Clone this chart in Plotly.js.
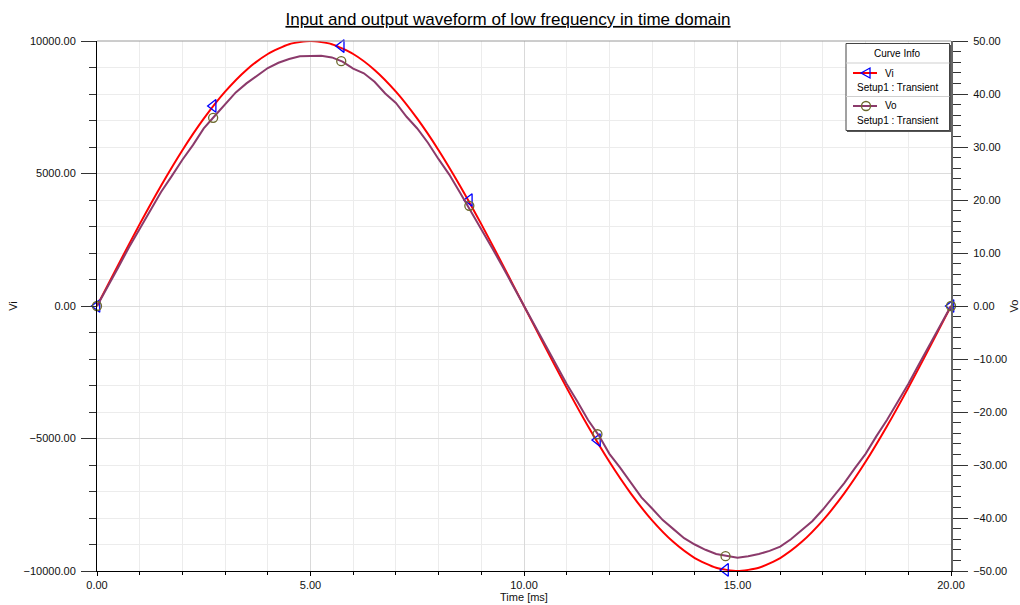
<!DOCTYPE html>
<html>
<head>
<meta charset="utf-8">
<script src="https://cdn.plot.ly/plotly-3.0.1.min.js"></script>
<style>html,body{margin:0;padding:0;background:#fff;}#chart{width:1020px;height:605px;}</style>
</head>
<body>
<div id="chart"></div>
<script>
// ---- data ----
const viTime = [0,0.5,1,1.5,2,2.5,3,3.5,4,4.5,5,5.5,6,6.5,7,7.5,8,8.5,9,9.5,10,
  10.5,11,11.5,12,12.5,13,13.5,14,14.5,15,15.5,16,16.5,17,17.5,18,18.5,19,19.5,20];
const viValues = [0,1560,3090,4540,5880,7070,8090,8910,9510,9880,10000,
  9880,9510,8910,8090,7070,5880,4540,3090,1560,0,
  -1560,-3090,-4540,-5880,-7070,-8090,-8910,-9510,-9880,-10000,
  -9880,-9510,-8910,-8090,-7070,-5880,-4540,-3090,-1560,0];
const voTime = [0,0.25,0.5,0.75,1,1.25,1.5,1.75,2,2.25,2.5,2.75,3,3.25,3.5,3.75,4,4.25,4.5,4.75,
  5,5.25,5.5,5.75,6,6.25,6.5,6.75,7,7.25,7.5,7.75,8,8.25,8.5,8.75,9,9.25,9.5,9.75,
  10,10.25,10.5,10.75,11,11.25,11.5,11.75,12,12.25,12.5,12.75,13,13.25,13.5,13.75,14,14.25,14.5,14.75,
  15,15.25,15.5,15.75,16,16.25,16.5,16.75,17,17.25,17.5,17.75,18,18.25,18.5,18.75,19,19.25,19.5,19.75,20];
const voValues = [0,3.6,7.3,11.1,14.5,17.9,21.5,24.5,27.6,30.4,33.5,35.8,38.0,40.3,42.0,43.5,44.9,45.9,46.6,47.1,
  47.2,47.2,46.9,46.1,44.8,43.9,42.3,40.1,38.3,35.7,33.5,30.8,27.7,24.8,21.4,18.0,14.5,11.0,7.4,3.7,
  0,-3.8,-7.5,-11.1,-14.7,-18.0,-21.5,-24.4,-27.9,-30.5,-33.3,-36.1,-38.2,-40.4,-42.1,-43.8,-45.0,-46.0,-46.8,-47.2,
  -47.5,-47.2,-46.8,-46.2,-45.4,-44.0,-42.3,-40.6,-38.4,-35.9,-33.4,-30.6,-27.9,-24.6,-21.5,-18.1,-14.7,-11.0,-7.4,-3.7,0];
const markerTimes = [0,2.72,5.72,8.72,11.72,14.72,20];
const viMarkers = [0,7550,9810,4000,-5060,-9960,0];
const voMarkers = [0,35.5,46.2,18.9,-24.2,-47.2,0];
const legendNames = ["Vi","Vo"];
const legendSetup = "Setup1 : Transient";

// ---- layout helpers (plot area in pixels) ----
const L = 97, R = 951, T = 41, B = 571;
const px = x => (x - L) / (R - L);
const py = y => (B - y) / (B - T);

const viColor = "#ff0000", voColor = "#8b3a6b", triColor = "#0000ff", circColor = "#6b682c";
const font = "Arial, 'Liberation Sans', sans-serif";

const traces = [
  {x: voTime, y: voValues, yaxis: "y2", mode: "lines", line: {color: voColor, width: 2}, showlegend: false, hoverinfo: "skip"},
  {x: viTime, y: viValues, mode: "lines", line: {color: viColor, width: 2, shape: "spline", smoothing: 0.6}, showlegend: false},
  {x: markerTimes, y: voMarkers, yaxis: "y2", mode: "markers", cliponaxis: false,
   marker: {symbol: "circle-open", size: 9, color: circColor, line: {width: 1.3, color: circColor}}, showlegend: false},
  {x: markerTimes, y: viMarkers, mode: "markers", cliponaxis: false,
   marker: {symbol: "triangle-left-open", size: 11, color: triColor, line: {width: 1.3, color: triColor}}, showlegend: false}
];

const shapes = [
  {type: "line", xref: "paper", yref: "paper", x0: 0, x1: 1, y0: 1, y1: 1, line: {color: "#9a9a9a", width: 1}},
  // legend box
  {type: "rect", xref: "paper", yref: "paper", x0: px(847), x1: px(951), y0: py(132), y1: py(45), fillcolor: "#555", line: {width: 0}, layer: "above"},
  {type: "rect", xref: "paper", yref: "paper", x0: px(846), x1: px(949.5), y0: py(130.5), y1: py(43.5), fillcolor: "#ffffff", line: {color: "#444", width: 1}, layer: "above"},
  {type: "line", xref: "paper", yref: "paper", x0: px(846), x1: px(949.5), y0: py(63), y1: py(63), line: {color: "#cfcfcf", width: 1}, layer: "above"},
  {type: "line", xref: "paper", yref: "paper", x0: px(846), x1: px(949.5), y0: py(96.5), y1: py(96.5), line: {color: "#cfcfcf", width: 1}, layer: "above"},
  {type: "line", xref: "paper", yref: "paper", x0: px(853), x1: px(877), y0: py(73), y1: py(73), line: {color: viColor, width: 2}, layer: "above"},
  {type: "path", xref: "paper", yref: "paper", layer: "above",
   path: `M ${px(861)} ${py(73)} L ${px(870)} ${py(68)} L ${px(870)} ${py(78)} Z`, line: {color: triColor, width: 1.3}},
  {type: "line", xref: "paper", yref: "paper", x0: px(853), x1: px(877), y0: py(106), y1: py(106), line: {color: voColor, width: 2}, layer: "above"},
  {type: "circle", xref: "paper", yref: "paper", x0: px(861.5), x1: px(870.5), y0: py(110.5), y1: py(101.5), line: {color: circColor, width: 1.3}, layer: "above"}
];

const annFont = {family: font, size: 10, color: "#000"};
const annotations = [
  {xref: "paper", yref: "paper", x: px(897.5), y: py(53), text: "Curve Info", showarrow: false, xanchor: "center", yanchor: "middle", font: annFont},
  {xref: "paper", yref: "paper", x: px(883), y: py(73), text: legendNames[0], showarrow: false, xanchor: "left", yanchor: "middle", font: annFont},
  {xref: "paper", yref: "paper", x: px(855), y: py(87), text: legendSetup, showarrow: false, xanchor: "left", yanchor: "middle", font: annFont},
  {xref: "paper", yref: "paper", x: px(883), y: py(106), text: legendNames[1], showarrow: false, xanchor: "left", yanchor: "middle", font: annFont},
  {xref: "paper", yref: "paper", x: px(855), y: py(121), text: legendSetup, showarrow: false, xanchor: "left", yanchor: "middle", font: annFont}
];

const tickFont = {family: font, size: 11, color: "#111"};

const layout = {
  width: 1020, height: 605,
  margin: {l: L, r: 1020 - R, t: T, b: 605 - B, pad: 0},
  paper_bgcolor: "#fff", plot_bgcolor: "#fff",
  showlegend: false,
  title: {text: "<u>Input and output waveform of low frequency in time domain</u>", x: 508/1020, xref: "container", xanchor: "center",
          y: 1 - 19/605, yref: "container", yanchor: "middle", font: {family: font, size: 17, color: "#000"}},
  xaxis: {range: [0, 20], tickmode: "linear", tick0: 0, dtick: 5, tickformat: ".2f",
          ticks: "outside", ticklen: 4, tickcolor: "#000", tickfont: tickFont,
          showline: true, linecolor: "#000", linewidth: 1, zeroline: false,
          showgrid: true, gridcolor: "#d9d9d9", gridwidth: 1,
          minor: {dtick: 1, ticks: "outside", ticklen: 3, tickcolor: "#000", showgrid: true, gridcolor: "#ececec"},
          title: {text: "Time [ms]", font: {family: font, size: 11, color: "#111"}, standoff: 2}},
  yaxis: {range: [-10000, 10000], tickmode: "linear", tick0: 0, dtick: 5000, tickformat: ".2f",
          ticks: "outside", ticklen: 15, tickcolor: "#333", tickfont: tickFont, ticklabelstandoff: 3,
          showline: true, linecolor: "#000", linewidth: 1, zeroline: false,
          showgrid: true, gridcolor: "#dcdcdc",
          minor: {dtick: 1000, ticks: "outside", ticklen: 7, tickcolor: "#333", showgrid: true, gridcolor: "#ececec"},
          title: {text: "Vi", font: {family: font, size: 11, color: "#111"}, standoff: 3}},
  yaxis2: {range: [-50, 50], overlaying: "y", side: "right", tickmode: "linear", tick0: 0, dtick: 10, tickformat: ".2f",
           ticks: "outside", ticklen: 15, tickcolor: "#333", tickfont: tickFont, ticklabelstandoff: 3,
           showline: true, linecolor: "#666", linewidth: 2, zeroline: false, showgrid: false,
           minor: {dtick: 2, ticks: "outside", ticklen: 8, tickcolor: "#333", showgrid: false},
           title: {text: "Vo", font: {family: font, size: 11, color: "#111"}, standoff: 8}},
  shapes: shapes,
  annotations: annotations
};

Plotly.newPlot("chart", traces, layout, {displayModeBar: false, staticPlot: true});
</script>
</body>
</html>
